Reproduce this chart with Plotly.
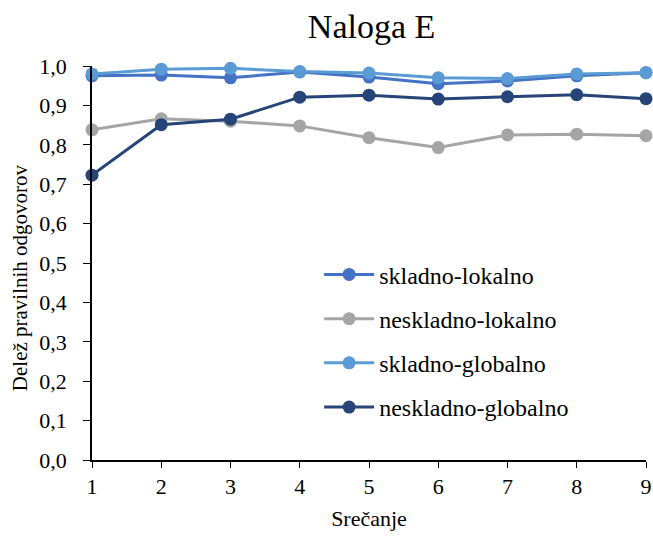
import plotly.graph_objects as go

srecanje = [1, 2, 3, 4, 5, 6, 7, 8, 9]
skladno_lokalno = [0.975, 0.977, 0.970, 0.985, 0.972, 0.955, 0.962, 0.975, 0.983]
neskladno_lokalno = [0.838, 0.866, 0.860, 0.848, 0.818, 0.793, 0.825, 0.827, 0.823]
skladno_globalno = [0.980, 0.992, 0.994, 0.986, 0.982, 0.970, 0.968, 0.980, 0.983]
neskladno_globalno = [0.723, 0.851, 0.865, 0.921, 0.926, 0.916, 0.922, 0.927, 0.917]

series = [
    ("skladno-lokalno", skladno_lokalno, "#4472C4"),
    ("neskladno-lokalno", neskladno_lokalno, "#A5A5A5"),
    ("skladno-globalno", skladno_globalno, "#5B9BD5"),
    ("neskladno-globalno", neskladno_globalno, "#264478"),
]

fig = go.Figure()
for name, vals, col in series:
    fig.add_trace(go.Scatter(
        x=srecanje, y=vals, name=name, mode="lines+markers",
        legendgroup=name,
        line=dict(color=col, width=3),
        marker=dict(color=col, size=13),
        cliponaxis=False,
    ))

font = "Liberation Serif"
fig.update_layout(
    width=653, height=541,
    margin=dict(l=92, r=7, t=66, b=81),
    paper_bgcolor="white", plot_bgcolor="white",
    separators=", ",
    font=dict(family=font, size=22, color="black"),
    title=dict(text="Naloga E", x=0.569, xanchor="center", y=0.952, yanchor="middle",
               font=dict(family=font, size=34, color="black")),
    xaxis=dict(range=[1, 9], tickvals=srecanje, showline=True, linecolor="black",
               linewidth=1.5, ticks="outside", ticklen=6, tickcolor="black",
               showgrid=False, zeroline=False, automargin=False,
               tickfont=dict(family=font, size=22), ticklabeloverflow="allow",
               title=dict(text="Srečanje", font=dict(family=font, size=22), standoff=12)),
    yaxis=dict(range=[0, 1.0], dtick=0.1, tickformat=".1f", showline=True,
               linecolor="black", linewidth=1.5, ticks="outside", ticklen=7,
               tickcolor="black", showgrid=False, zeroline=False, automargin=False,
               tickfont=dict(family=font, size=22), ticklabelstandoff=12),
    annotations=[dict(text="Delež pravilnih odgovorov", textangle=-90,
                      xref="paper", yref="paper", x=-0.130, y=0.464,
                      xanchor="center", yanchor="middle", showarrow=False,
                      font=dict(family=font, size=21, color="black"))],
    legend=dict(x=0.41, y=0.527, xanchor="left", yanchor="top",
                font=dict(family=font, size=24), tracegroupgap=10,
                itemwidth=50, bgcolor="rgba(0,0,0,0)"),
)

fig.write_html("out.html", config={"displayModeBar": False},
               post_script="document.body.style.margin='0';")
